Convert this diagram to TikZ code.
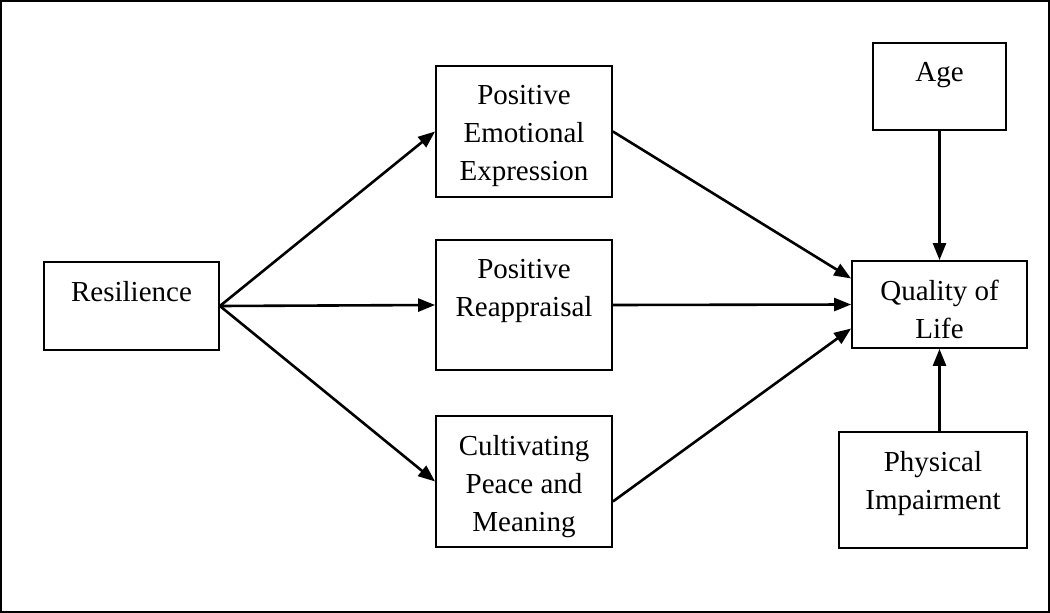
\documentclass[tikz,border=0pt]{standalone}
\usepackage{fontspec}
\setmainfont{Liberation Serif}
\usetikzlibrary{arrows.meta}
\tikzset{
  box/.style={draw, line width=1.8pt, inner sep=0pt},
  txt/.style={anchor=north, yshift=-20pt, inner sep=0pt, align=center,
    font=\fontsize{29}{38}\selectfont},
  link/.style={draw, line width=2.6pt, -{Triangle[length=17pt, width=13pt]}}
}
\begin{document}
\begin{tikzpicture}[x=1pt, y=-1pt]
    % frame
    \useasboundingbox (0,0) rectangle (1050,613);
    \path[draw, line width=2pt] (1,1) rectangle (1049,612);
    % boxes
    \node[box, minimum width=175pt, minimum height=88pt, label={[txt]north:Resilience}] (res) at (131.5,306) {};
    \node[box, minimum width=176pt, minimum height=131pt, label={[txt]north:Positive\\Emotional\\Expression}] (pee) at (524,131.5) {};
    \node[box, minimum width=176pt, minimum height=130pt, label={[txt]north:Positive\\Reappraisal}] (pr) at (524,305) {};
    \node[box, minimum width=176pt, minimum height=131pt, label={[txt]north:Cultivating\\Peace and\\Meaning}] (cpm) at (524,481.5) {};
    \node[box, minimum width=133pt, minimum height=87pt, label={[txt]north:Age}] (age) at (939.5,86.5) {};
    \node[box, minimum width=175pt, minimum height=87pt, label={[txt]north:Quality of\\Life}] (qol) at (939.5,304.5) {};
    \node[box, minimum width=188pt, minimum height=116pt, label={[txt]north:Physical\\Impairment}] (pi) at (933,490) {};
    % paths
    \path[link] (res.east) to (pee.west);
    \path[link] (res.east) to (pr.west);
    \path[link] (res.east) to (cpm.west);
    \path[link] (pee.east) to ([yshift=26pt]qol.west);
    \path[link] (pr.east) to (qol.west);
    \path[link] ([yshift=-20pt]cpm.east) to ([yshift=-24pt]qol.west);
    \path[link] (age.south) to (qol.north);
    \path[link] (pi.north-|qol.north) to (qol.south);
\end{tikzpicture}
\end{document}
